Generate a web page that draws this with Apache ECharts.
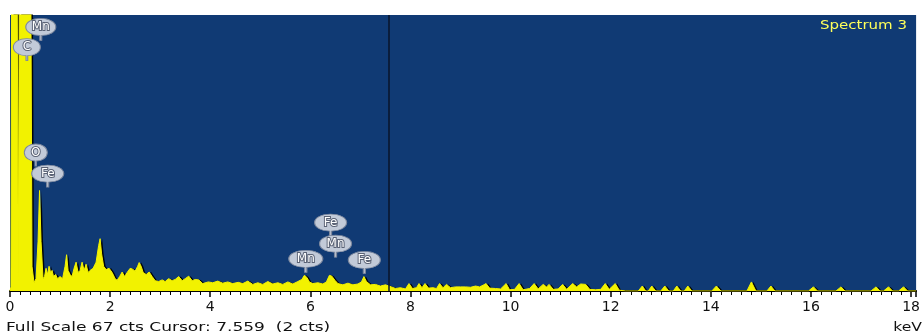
<!DOCTYPE html>
<html><head><meta charset="utf-8">
<script src="https://cdn.jsdelivr.net/npm/echarts@6/dist/echarts.min.js"></script>
<style>html,body{margin:0;padding:0;background:#fff}#c{width:923px;height:336px}</style>
</head><body><div id="c"></div>
<script>
// ---- data ----
const energyKeV = [0.00,0.02,0.04,0.13,0.165,0.20,0.40,0.44,0.48,0.52,0.56,0.59,0.62,0.66,0.69,0.72,0.75,0.78,0.81,0.84,0.87,0.91,0.95,1.00,1.05,1.10,1.13,1.16,1.20,1.24,1.28,1.32,1.36,1.40,1.44,1.48,1.52,1.56,1.60,1.66,1.72,1.77,1.80,1.83,1.87,1.92,1.98,2.04,2.10,2.14,2.19,2.24,2.29,2.34,2.40,2.45,2.50,2.55,2.58,2.62,2.66,2.72,2.78,2.84,2.90,2.97,3.04,3.10,3.17,3.24,3.30,3.37,3.44,3.50,3.57,3.64,3.70,3.77,3.85,3.96,4.05,4.15,4.25,4.35,4.45,4.56,4.65,4.75,4.85,4.95,5.05,5.15,5.25,5.35,5.45,5.55,5.65,5.75,5.83,5.88,5.93,5.98,6.05,6.15,6.25,6.32,6.38,6.43,6.49,6.55,6.65,6.75,6.85,6.95,7.02,7.07,7.12,7.20,7.30,7.40,7.50,7.62,7.70,7.80,7.90,7.97,8.04,8.12,8.17,8.23,8.29,8.36,8.45,8.52,8.58,8.65,8.72,8.80,8.90,9.00,9.10,9.20,9.30,9.38,9.45,9.51,9.58,9.70,9.80,9.91,9.98,10.08,10.17,10.25,10.38,10.47,10.55,10.65,10.72,10.77,10.85,10.95,11.04,11.12,11.24,11.32,11.40,11.50,11.58,11.70,11.80,11.89,11.97,12.09,12.17,12.30,12.55,12.63,12.70,12.75,12.82,12.90,13.00,13.08,13.16,13.25,13.32,13.40,13.47,13.54,13.62,14.02,14.11,14.20,14.72,14.81,14.90,15.12,15.20,15.28,15.95,16.05,16.13,16.50,16.60,16.68,17.20,17.30,17.38,17.45,17.55,17.63,17.75,17.85,17.93,18.10];
const countsCts = [0,1,120,120,2,120,120,6,2,3,12,24.4,12,3,3.5,5.5,4,6,4.5,5,3.5,4,3,3.5,3,6,8.8,5,4,3.5,5.5,7,4.5,5,7,5,6.5,4.5,5,5.5,7,11,12.7,9,6,5.2,5.5,4.5,3,2.6,3.5,4.6,3.5,4.5,5.5,5.3,4.8,6,6.9,6,4.5,4,4.6,3.5,2.5,2.3,2.7,2.3,3.0,2.5,2.8,3.5,2.5,3,3.6,2.5,2.8,2.7,1.8,2.2,2,2.4,1.9,2.2,1.8,2.1,1.8,2.4,1.6,2.0,1.6,2.3,1.7,2.0,1.6,2.2,1.7,2.3,2.8,3.8,3.3,2.2,1.8,2.0,1.7,2.2,3.8,3.6,2.6,1.8,1.5,1.9,1.5,1.7,2.2,3.5,2.3,1.5,1.6,1.2,1.5,1.0,0.6,0.8,0.5,1.8,0.6,0.8,1.8,0.8,1.8,0.7,0.8,0.6,1.8,0.8,1.6,0.8,1.0,1.0,1.0,0.9,1.2,1.0,1.4,1.8,0.7,0.6,0.5,1.8,0.3,0.4,1.8,0.3,0.6,1.8,0.5,1.6,1.0,1.6,0.4,0.5,1.6,0.4,1.8,1.0,1.7,1.6,0.4,0.3,0.4,1.8,0.4,1.8,0.2,0,0,1.2,0,0,1.2,0,0,1.2,0,0,1.2,0,0,1.2,0,0,1.2,0,0,2.2,0,0,1.2,0,0,1.0,0,0,1.0,0,0,1.0,0,0,1.0,0,0,1.0,0,0];
const xTicks = [0,2,4,6,8,10,12,14,16,18];
const fullScaleCts = 67;
const cursorKeV = 7.559;
const cursorCts = 2;
const spectrumName = 'Spectrum 3';
const peakNames = ['Mn','C','O','Fe','Fe','Mn','Mn','Fe'];
const peakLabelKeV = [0.615,0.337,0.515,0.753,6.404,6.503,5.908,7.078];
const peakLabelCts = [64.1,59.2,33.6,28.5,16.6,11.5,7.8,7.55];

// ---- styles ----
const bubbleW = [30,27,23,32,32,32,34,32];
const bubblePath = 'path://M0,8.5 C0,3.5 7,0 16,0 C25,0 32,3.5 32,8.5 C32,13.5 25,17 17,17 L17,22 L15,22 L15,17 C7,17 0,13.5 0,8.5 Z';

const chart = echarts.init(document.getElementById('c'));
chart.setOption({
  animation:false,
  backgroundColor:'#ffffff',
  grid:{left:10,right:0,top:15,bottom:45,show:true,backgroundColor:'#103a74',borderWidth:0},
  xAxis:{type:'value',min:xTicks[0],max:18.1,interval:xTicks[1]-xTicks[0],
    axisLine:{show:true,onZero:false,lineStyle:{color:'#000',width:2}},
    axisTick:{show:true,length:6,lineStyle:{color:'#000',width:1.5}},
    minorTick:{show:true,splitNumber:10,length:4,lineStyle:{color:'#000',width:1}},
    splitLine:{show:false},
    axisLabel:{color:'#111',fontFamily:'DejaVu Sans',fontSize:14,margin:9}},
  yAxis:{type:'value',min:0,max:fullScaleCts,show:false,splitLine:{show:false}},
  series:[{
    type:'line',showSymbol:false,symbol:'none',clip:true,
    data:energyKeV.map((e,i)=>[e,countsCts[i]]),
    lineStyle:{color:'#f2f200',width:1},
    areaStyle:{color:'#f2f200',opacity:1,shadowColor:'rgba(0,0,0,0.95)',shadowOffsetX:2,shadowBlur:0},
    markLine:{silent:true,symbol:'none',label:{show:false},
      lineStyle:{color:'#08142a',width:1.5,type:'solid'},
      data:[{xAxis:cursorKeV}]},
    markPoint:{silent:true,symbol:bubblePath,symbolKeepAspect:false,
      itemStyle:{color:'#c2cad8',borderColor:'#7d889e',borderWidth:1},
      label:{show:true,position:'inside',offset:[0,-2.5],color:'#ffffff',fontFamily:'DejaVu Sans',fontSize:12,
        textBorderColor:'#5a6275',textBorderWidth:2,formatter:p=>p.name},
      data:peakNames.map((n,i)=>({name:n,coord:[peakLabelKeV[i],peakLabelCts[i]],
        symbolSize:[bubbleW[i],22],symbolOffset:[0,2.5]}))}
  }],
  graphic:[
    {type:'text',x:907,y:26,scaleX:1.25,z:100,
      style:{text:spectrumName,font:'12px "DejaVu Sans"',fill:'#ffff5a',align:'right',verticalAlign:'middle'}},
    {type:'text',x:6,y:328,scaleX:1.42,z:100,
      style:{text:'Full Scale '+fullScaleCts+' cts Cursor: '+cursorKeV.toFixed(3)+'  ('+cursorCts+' cts)',font:'12px "DejaVu Sans"',fill:'#111',align:'left',verticalAlign:'middle'}},
    {type:'text',x:922,y:328,scaleX:1.3,z:100,
      style:{text:'keV',font:'12px "DejaVu Sans"',fill:'#111',align:'right',verticalAlign:'middle'}}
  ]
});
</script></body></html>
